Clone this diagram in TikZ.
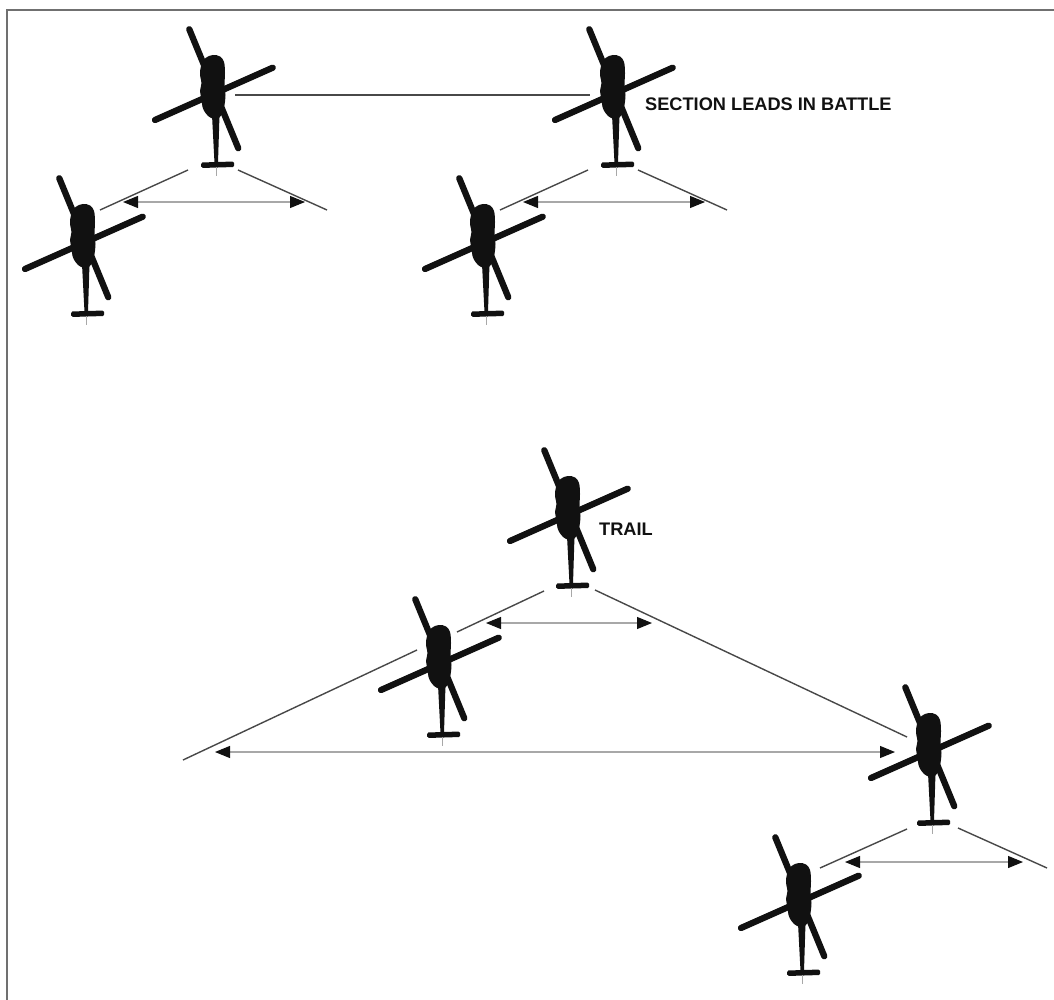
\documentclass[tikz,border=0pt]{standalone}
\usepackage{fontspec}
\setmainfont{Liberation Sans}
\usetikzlibrary{arrows.meta,calc}

\definecolor{ink}{HTML}{111111}
\definecolor{guide}{HTML}{484848}
\definecolor{spancol}{HTML}{A8A8A8}
\definecolor{framecol}{HTML}{707070}

\tikzset{
  % top-view helicopter silhouette, origin at the rotor hub
  heli/.pic={
    \draw[ink, line width=6.3pt, line cap=round] (-25.7,-63.7) -- (23.3,55.3);
    \draw[ink, line width=6.3pt, line cap=round] (-60,27) -- (57.7,-25.3);
    \fill[ink] plot[smooth cycle, tension=0.6] coordinates {
      (-2,-38) (5,-36.5) (9,-31) (10,-20) (9.5,-8) (10.5,2) (9.5,12) (7.5,19) (4,25)
      (-4,25) (-9.5,20) (-12.5,14) (-13.5,6) (-15,-2) (-13.5,-10) (-15,-18)
      (-14,-27) (-9.5,-35)};
    \fill[ink] (-3,22) -- (4.5,22) -- (3,70) -- (-0.5,70) -- cycle;
    \fill[ink, rounded corners=1.5pt] (-14,69.5) -- (19,68.5) -- (19.3,74) -- (-13.7,75) -- cycle;
    \draw[spancol, line width=0.8pt] (1,74) -- (1,83);
  },
  guideline/.style={guide, line width=1.4pt},
  spanarrow/.style={spancol, line width=1.1pt,
    {Triangle[length=15pt,width=12pt,color=ink]}-{Triangle[length=15pt,width=12pt,color=ink]}},
  formtext/.style={font=\bfseries\fontsize{18.2}{20}\selectfont, text=ink, inner sep=0pt}
}

\begin{document}
\begin{tikzpicture}[x=1pt,y=-1pt]
  \useasboundingbox (0,0) rectangle (1054,1000);
  \fill[white] (0,0) rectangle (1054,1000);

  % frame
  \draw[framecol, line width=2pt] (7,1000) -- (7,10) -- (1054,10);

  % rotor hub positions
  \coordinate (A) at (215,93);
  \coordinate (B) at (85,242);
  \coordinate (C) at (615,93);
  \coordinate (D) at (485,242);
  \coordinate (E) at (570,514);
  \coordinate (F) at (441,663);
  \coordinate (G) at (931,751);
  \coordinate (H) at (801,901);

  % section leads in battle
  \draw[guideline] ($(A)+(20,2)$) -- ($(C)+(-25,2)$);
  \foreach \s in {A,C}{
    \draw[guideline] ($(\s)+(-115,117)$) -- ($(\s)+(-27,77)$);
    \draw[guideline] ($(\s)+(23,77)$) -- ($(\s)+(112,117)$);
    \draw[spanarrow] ($(\s)+(-92,109)$) -- ($(\s)+(90,109)$);
  }

  % trail formation
  \draw[guideline] ($(E)+(-26,77)$) -- ($(E)+(-113,118)$);
  \draw[guideline] ($(E)+(-153,136)$) -- ($(E)+(-387,246)$);
  \draw[guideline] ($(E)+(25,76)$) -- ($(E)+(337,223)$);
  \draw[spanarrow] ($(E)+(-84,109)$) -- ($(E)+(82,109)$);
  \draw[spanarrow] ($(F)+(-226,89)$) -- ($(G)+(-36,1)$);

  \draw[guideline] ($(G)+(-111,117)$) -- ($(G)+(-24,78)$);
  \draw[guideline] ($(G)+(27,77)$) -- ($(G)+(116,117)$);
  \draw[spanarrow] ($(G)+(-86,111)$) -- ($(G)+(92,111)$);

  % aircraft
  \foreach \s in {A,B,C,D,E,F,G,H}{
    \pic at (\s) {heli};
  }

  % labels
  \node[formtext, anchor=base west] (leads) at (645,111) {SECTION LEADS IN BATTLE};
  \node[formtext, anchor=base west] (trail) at (599,535) {TRAIL};
\end{tikzpicture}
\end{document}
